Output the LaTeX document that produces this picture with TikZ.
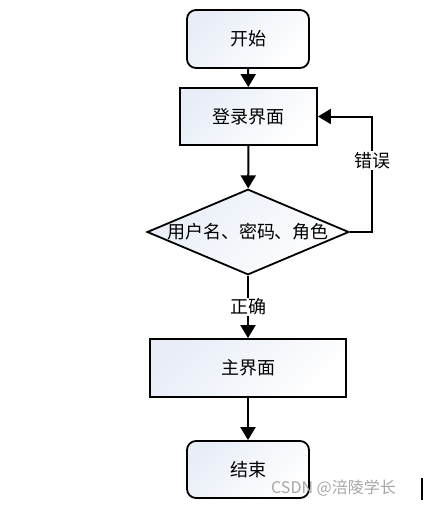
\documentclass[tikz,border=0pt]{standalone}
\usepackage{fontspec}
\setmainfont{Noto Sans CJK SC}
\newfontfamily\cjk{Noto Sans CJK SC}
\usetikzlibrary{shapes.geometric,arrows.meta}
\definecolor{boxfill}{HTML}{E8EDF7}
\begin{document}
\begin{tikzpicture}[x=1pt,y=-1pt,
  every node/.style={font=\cjk\fontsize{18}{20}\selectfont},
  shaded/.style={draw=black,line width=1.8pt,left color=boxfill,right color=white,shading angle=45},
  roundbox/.style={shaded,rounded corners=9pt,minimum width=122pt,minimum height=58pt,inner sep=0pt},
  rectbox/.style={shaded,minimum height=57pt,inner sep=0pt},
  decision/.style={shaded,diamond,aspect=2.36,minimum width=196pt,minimum height=83pt,inner sep=0pt},
  conn/.style={line width=2pt,-{Triangle[width=15pt,length=13pt]}},
  lbl/.style={fill=white,inner sep=1pt}
]
\useasboundingbox (0,0) rectangle (423,507);
\node[roundbox] (start) at (248,39) {开始};
\node[rectbox,minimum width=137pt] (login) at (248.5,116.5) {登录界面};
\node[decision] (check) at (248,232) {用户名、密码、角色};
\node[rectbox,minimum width=196pt,minimum height=58pt] (main) at (248,368) {主界面};
\node[roundbox,minimum height=57pt] (end) at (248,469.5) {结束};
\coordinate (c1) at (372,232);
\coordinate (c2) at (372,116.5);
\draw[conn] (start) -- (login);
\draw[conn] (login) -- (check);
\draw[conn] (check) -- node[lbl,pos=0.5] (ok) {正确} (main);
\draw[conn] (main) -- (end);
\draw[conn] (check.east) -- (c1) -- node[lbl,pos=0.62] (err) {错误} (c2) -- (login.east);
\node[text=gray!70,font=\cjk\fontsize{16}{18}\selectfont,anchor=west,inner sep=0pt] (wm) at (271,488) {CSDN @涪陵学长};
\coordinate (v1) at (422,478);
\coordinate (v2) at (422,500);
\draw[line width=2pt] (v1) -- (v2);
\end{tikzpicture}
\end{document}
